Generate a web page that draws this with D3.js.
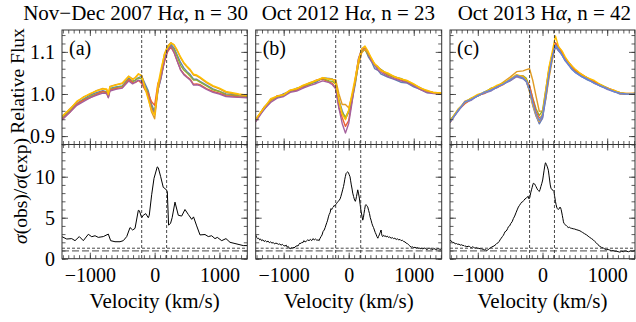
<!DOCTYPE html>
<html>
<head>
<meta charset="utf-8">
<script src="https://cdn.jsdelivr.net/npm/d3@7"></script>
<style>
  body { margin: 0; background: #fff; }
  svg { display: block; }
</style>
</head>
<body>
<svg width="636" height="322"></svg>
<script>
// ---- data ----
const titleDates = ["Nov\u2212Dec 2007", "Oct 2012", "Oct 2013"]
const nSpectra = [30, 23, 42]
const panelTags = ["(a)", "(b)", "(c)"]

// velocity grid for panel (a) spectra, and for (b), (c)
const velA = [-1430,-1300,-1200,-1100,-1000,-900,-800,-740,-715,-690,-600,-500,-400,-340,-300,-250,-200,-150,-100,-50,0,50,100,150,200,250,300,350,400,450,500,550,600,650,700,800,900,1000,1100,1200,1300,1430]
const velBC = [-1430,-1300,-1200,-1100,-1000,-900,-800,-700,-600,-500,-400,-300,-250,-200,-150,-100,-50,0,50,100,150,200,250,300,350,400,450,500,600,700,800,900,1000,1100,1200,1300,1430]

// mean relative flux
const meanA = [0.943,0.962,0.978,0.988,0.995,1.002,1.008,1.006,0.995,1.013,1.016,1.020,1.038,1.030,1.033,1.040,1.040,1.020,1.000,0.970,0.955,1.015,1.048,1.085,1.108,1.118,1.108,1.090,1.072,1.060,1.052,1.045,1.035,1.034,1.030,1.020,1.012,1.007,1.000,0.998,0.996,0.994]
const meanB = [0.938,0.966,0.985,0.993,0.998,1.006,1.012,1.017,1.024,1.031,1.036,1.033,1.030,1.022,0.978,0.950,0.935,0.952,0.988,1.030,1.078,1.104,1.110,1.095,1.080,1.068,1.060,1.053,1.045,1.038,1.034,1.028,1.021,1.012,1.006,1.002,1.001]
const meanC = [0.934,0.962,0.980,0.988,0.996,1.003,1.010,1.017,1.025,1.034,1.043,1.040,1.032,1.012,0.982,0.955,0.937,0.952,1.000,1.052,1.090,1.120,1.108,1.097,1.083,1.073,1.063,1.055,1.044,1.036,1.028,1.020,1.013,1.007,1.002,1.000,1.001]

// individual spectra, departure from the mean in units of 0.001
const devA = [
  [0,1,-1,0,2,1,0,-1,1,0,1,-1,0,1,0,-1,2,5,8,6,3,-6,-10,-6,-2,0,1,2,3,2,1,1,0,1,0,1,0,-1,0,1,0,0],
  [-2,-1,-3,-2,-1,-2,-3,-2,-1,-2,-1,-2,-3,-2,-1,-2,-4,-1,3,2,-1,-3,-4,-2,-3,-4,-3,-2,-4,-3,-2,-3,-2,-1,-2,-1,-2,-1,-2,-1,-1,0],
  [-3,-4,-2,-3,-4,-3,-2,-4,-3,-4,-3,-5,-4,-3,-6,-8,-15,-10,2,12,18,10,-4,-10,-8,-6,-10,-12,-14,-12,-11,-10,-12,-10,-8,-7,-6,-5,-4,-3,-3,-2],
  [-5,-4,-5,-6,-4,-5,-6,-5,-4,-6,-5,-6,-7,-6,-5,-7,-10,-6,-4,-2,-4,-6,-8,-5,-4,-5,-9,-13,-15,-14,-13,-12,-14,-12,-10,-9,-8,-7,-6,-5,-4,-3],
  [3,4,3,5,4,6,5,4,3,5,6,5,4,6,5,7,4,-2,-8,-12,-14,-8,5,10,6,4,8,12,14,13,12,11,10,9,8,7,6,5,4,3,2,2],
  [4,3,5,4,6,5,4,6,5,4,5,6,4,3,6,8,2,-6,-12,-8,-5,6,12,8,2,3,9,14,16,15,14,13,12,11,10,9,8,7,6,5,4,3]
]
const devB = [
  [2,-3,1,-2,3,-1,2,-2,1,-3,2,4,6,3,8,10,6,4,-5,-8,-4,-3,-2,-6,-3,-8,-4,-6,-5,-3,-6,-2,-4,-1,-3,0,-1],
  [-3,2,-2,3,-1,2,-3,1,-2,2,-1,-4,-5,-8,-10,-6,-12,-15,-4,5,4,1,0,2,-1,3,1,2,0,1,-1,0,1,-1,0,1,0],
  [0,2,-1,0,-2,1,0,3,-1,0,1,-2,0,2,4,6,10,8,6,-3,-6,-4,-5,-2,1,-1,2,5,1,2,3,1,0,2,0,1,0],
  [-4,-2,-5,-3,-4,-2,-5,-3,-4,-6,-5,-6,-8,-10,-12,-20,-28,-22,-10,2,6,3,2,0,-2,0,-3,-2,-3,-2,-3,-1,-2,-1,-2,-1,-1],
  [1,3,0,2,1,3,0,2,3,1,2,3,4,12,22,25,40,15,6,-2,-8,-6,-3,2,4,3,5,4,3,4,2,3,2,3,1,2,1],
  [3,1,4,2,0,3,1,4,2,1,3,2,5,4,6,2,4,10,12,8,2,3,4,6,5,3,4,2,5,3,2,4,3,2,3,1,2]
]
const devC = [
  [-1,2,-2,1,-1,2,0,-2,1,-1,2,-3,-2,-4,-6,-5,-8,-10,-12,-8,-5,-8,-6,-3,-4,-2,-3,-1,-2,-3,-1,-2,0,-1,-2,0,-1],
  [2,-1,3,0,2,-1,3,1,4,6,10,15,26,48,50,40,22,8,-12,-15,-10,-4,2,3,1,2,0,3,1,2,0,1,2,0,1,-1,0],
  [3,1,0,2,-1,1,3,0,2,-2,0,3,5,6,8,10,12,8,10,8,4,-2,-3,0,2,1,3,0,2,1,0,2,1,0,1,0,0],
  [-2,0,-3,-1,1,-2,0,-1,-2,1,-1,2,0,8,6,4,6,-4,4,6,3,2,4,3,2,3,4,2,3,1,2,0,1,2,-1,1,0],
  [0,-2,1,-3,0,-1,-3,0,-1,-3,-2,-4,-3,-6,-10,-8,-5,-8,-6,-3,0,-6,-5,-4,-3,-4,-2,-3,-2,-1,-3,-1,-2,-1,0,-1,0],
  [1,3,0,2,3,1,2,4,1,2,3,1,2,-6,-8,-4,-2,2,8,12,10,18,4,6,5,3,4,5,3,2,4,2,1,2,1,1,0],
  [-1,0,1,-1,0,1,-1,0,-1,0,1,-2,-1,-2,-3,-2,0,-3,-4,-6,-3,-4,-2,-4,-3,-2,-4,-3,-2,-1,-2,-1,0,-1,0,0,-1]
]
const colorsA = ["#5E81B5", "#8FB032", "#EB6235", "#A5609D", "#E19C24", "#FFBF00"]
const colorsB = ["#5E81B5", "#EB6235", "#8FB032", "#A5609D", "#E19C24", "#FFBF00"]
const colorsC = ["#5E81B5", "#E19C24", "#8FB032", "#EB6235", "#8778B3", "#FFBF00", "#6685D9"]

// sigma(obs)/sigma(exp) : [velocity, ratio]
const sigA = [[-1430,2.68],[-1357,2.4],[-1280,2.45],[-1229,2.2],[-1163,2.7],[-1101,2.2],[-1024,2.98],[-971,2.68],[-920,2.8],[-870,2.6],[-792,2.7],[-715,3.0],[-679,2.2],[-612,2.07],[-535,2.07],[-484,2.2],[-431,2.7],[-380,3.8],[-339,3.5],[-303,3.7],[-252,5.9],[-236,5.85],[-200,5.0],[-175,5.3],[-138,5.5],[-98,5.0],[-83,5.3],[-46,7.8],[-10,9.8],[40,11.2],[56,11.1],[93,10.0],[133,8.7],[170,8.5],[195,8.2],[215,4.1],[245,4.3],[270,5.0],[314,6.9],[365,5.3],[417,5.2],[468,6.0],[519,5.4],[572,4.8],[600,5.1],[649,4.0],[700,2.9],[777,2.95],[828,2.7],[880,2.8],[931,2.45],[967,2.6],[1035,2.2],[1101,2.45],[1163,2.0],[1240,1.85],[1317,1.7],[1368,1.6],[1430,1.6]]
const sigB = [[-1430,2.9],[-1415,2.6],[-1400,2.45],[-1385,2.5],[-1370,2.3],[-1355,2.4],[-1340,2.2],[-1320,2.3],[-1300,2.1],[-1280,2.2],[-1260,2.05],[-1240,2.15],[-1220,1.95],[-1200,2.05],[-1180,1.9],[-1160,1.98],[-1140,1.8],[-1120,1.9],[-1100,1.85],[-1080,1.75],[-1060,1.8],[-1040,1.65],[-1020,1.75],[-1000,1.6],[-980,1.55],[-960,1.65],[-945,1.4],[-930,1.5],[-915,1.3],[-900,1.2],[-885,1.35],[-870,1.25],[-855,1.4],[-840,1.3],[-825,1.45],[-810,1.5],[-795,1.6],[-780,1.55],[-765,1.75],[-750,1.9],[-735,1.85],[-720,2.0],[-705,1.95],[-690,2.2],[-670,2.05],[-650,2.15],[-630,2.3],[-610,2.2],[-590,2.35],[-570,2.2],[-550,2.45],[-530,2.3],[-510,2.4],[-490,2.25],[-470,2.3],[-455,2.2],[-440,2.5],[-425,2.7],[-410,2.9],[-395,3.3],[-377,3.5],[-362,3.8],[-350,4.1],[-337,4.4],[-324,4.7],[-312,5.1],[-300,5.4],[-287,5.6],[-273,6.1],[-262,6.0],[-250,6.2],[-236,6.3],[-222,6.5],[-210,6.4],[-200,6.6],[-185,6.75],[-172,6.9],[-160,7.0],[-145,7.15],[-132,7.3],[-120,7.6],[-106,8.0],[-93,8.4],[-80,8.8],[-70,9.2],[-60,9.7],[-52,10.0],[-40,10.4],[-30,10.5],[-15,10.6],[-5,10.5],[5,10.3],[20,10.0],[30,9.5],[40,9.0],[52,8.5],[62,8.0],[75,7.6],[85,7.3],[94,7.1],[102,7.0],[110,7.2],[120,7.6],[130,8.0],[139,8.4],[150,8.0],[164,7.4],[176,6.6],[190,5.8],[204,5.2],[216,4.7],[226,5.0],[235,5.5],[245,6.0],[256,6.5],[266,6.6],[275,6.5],[285,6.4],[293,6.3],[306,5.9],[320,5.5],[332,5.0],[344,4.7],[357,4.3],[370,4.0],[382,3.8],[395,3.5],[408,3.2],[420,3.0],[434,2.7],[448,2.5],[458,2.7],[470,2.9],[484,3.2],[498,3.5],[505,3.1],[512,2.8],[525,2.7],[537,2.85],[550,2.75],[563,2.8],[576,2.65],[593,2.75],[610,2.6],[630,2.65],[653,2.5],[670,2.58],[690,2.45],[710,2.5],[730,2.35],[750,2.42],[770,2.3],[790,2.35],[807,2.2],[826,2.25],[845,2.1],[865,2.05],[884,1.9],[902,1.85],[920,1.7],[940,1.55],[961,1.4],[980,1.45],[1000,1.35],[1020,1.4],[1038,1.3],[1058,1.35],[1080,1.25],[1095,1.3],[1110,1.2],[1125,1.28],[1141,1.18],[1160,1.3],[1180,1.25],[1195,1.12],[1210,1.15],[1225,1.25],[1243,1.3],[1260,1.15],[1280,1.2],[1295,1.1],[1310,1.25],[1330,1.15],[1347,1.1],[1370,1.22],[1390,1.2],[1410,1.1],[1430,1.3]]
const sigC = [[-1430,2.3],[-1415,2.15],[-1400,2.1],[-1385,1.95],[-1370,2.0],[-1350,1.8],[-1330,1.85],[-1310,1.75],[-1290,1.78],[-1273,1.65],[-1250,1.7],[-1230,1.6],[-1215,1.62],[-1200,1.5],[-1185,1.55],[-1170,1.45],[-1150,1.52],[-1130,1.5],[-1115,1.4],[-1100,1.35],[-1085,1.45],[-1068,1.4],[-1050,1.32],[-1030,1.3],[-1015,1.35],[-1000,1.25],[-983,1.28],[-965,1.2],[-948,1.22],[-930,1.15],[-915,1.18],[-900,1.05],[-880,1.1],[-861,1.0],[-850,1.05],[-840,1.1],[-826,1.2],[-813,1.3],[-796,1.35],[-780,1.45],[-765,1.5],[-750,1.55],[-735,1.65],[-718,1.75],[-700,1.9],[-685,1.95],[-670,2.1],[-656,2.3],[-638,2.5],[-620,2.7],[-605,2.85],[-590,3.1],[-579,3.3],[-565,3.35],[-550,3.5],[-538,3.7],[-527,3.9],[-508,4.0],[-490,4.3],[-470,4.5],[-450,4.9],[-430,5.2],[-410,5.6],[-392,5.95],[-373,6.3],[-356,6.5],[-340,6.7],[-321,6.9],[-305,6.95],[-290,7.1],[-270,7.3],[-255,7.35],[-240,7.5],[-219,7.6],[-210,7.3],[-200,7.4],[-190,7.7],[-182,8.05],[-170,8.4],[-160,8.7],[-150,9.0],[-142,9.2],[-130,9.15],[-120,9.1],[-110,8.95],[-100,8.8],[-88,8.6],[-75,8.4],[-62,8.3],[-49,8.2],[-37,8.45],[-25,8.8],[-10,9.2],[3,9.6],[14,10.2],[25,10.8],[35,11.3],[45,11.7],[52,11.65],[60,11.5],[75,11.2],[90,10.8],[100,10.2],[110,9.6],[120,9.0],[131,8.6],[140,8.5],[150,8.4],[163,8.35],[177,8.2],[188,7.6],[200,7.0],[210,6.6],[219,6.3],[230,6.1],[240,6.0],[250,6.05],[259,6.1],[270,6.3],[280,6.2],[288,6.0],[296,5.7],[306,5.3],[315,4.9],[324,4.5],[332,4.3],[345,4.2],[360,4.1],[378,3.95],[398,3.8],[414,3.85],[430,3.75],[452,3.7],[475,3.65],[497,3.62],[520,3.55],[550,3.48],[579,3.4],[600,3.3],[620,3.2],[650,3.05],[682,2.9],[705,2.75],[730,2.6],[758,2.45],[785,2.3],[808,2.1],[830,1.95],[858,1.7],[887,1.5],[912,1.38],[940,1.3],[965,1.18],[991,1.1],[1015,1.12],[1040,1.05],[1066,0.98],[1093,1.0],[1116,0.92],[1140,0.9],[1168,0.86],[1196,0.8],[1222,0.9],[1250,0.85],[1275,0.95],[1299,0.9],[1330,0.85],[1360,0.95],[1395,0.9],[1430,1.0]]

// dashed marker positions
const markVel = [-200, 185]
const sigmaRef = [1.28, 0.95]

// tick values
const xLabelTicks = [-1000, 0, 1000]
const fluxLabelTicks = [0.9, 1.0, 1.1]
const sigLabelTicks = [0, 5, 10]

// ---- layout ----
const serif = "'Liberation Serif', 'Times New Roman', Times, serif"
const svg = d3.select("svg").attr("font-family", serif)
const fontTick = 20
const topY = [30, 144.5]
const botY = [144.5, 258.7]
const panelX = [[62, 247.3], [255.7, 441.7], [450, 635]]

const panels = [
  { vel: velA, mean: meanA, dev: devA, colors: colorsA, sig: sigA },
  { vel: velBC, mean: meanB, dev: devB, colors: colorsB, sig: sigB },
  { vel: velBC, mean: meanC, dev: devC, colors: colorsC, sig: sigC }
]

const yFlux = d3.scaleLinear().domain([0.88, 1.152]).range([topY[1], topY[0]])
const ySig = d3.scaleLinear().domain([0, 13.93]).range([botY[1], botY[0]])

const xMinor = d3.range(-17, 18).map(k => k * 250 / 3).filter(v => v > -1430 && v < 1430)
const fluxMinor = d3.range(44, 58).map(k => k / 50)
const sigMinor = d3.range(0, 14)

const minus = d => d < 0 ? "\u2212" + Math.abs(d) : String(d)

function ticksOn(g, axisFn, scale, values, size, at) {
  g.append("g")
    .attr("transform", at)
    .call(axisFn(scale).tickValues(values).tickSize(-size).tickFormat(""))
    .call(s => s.select(".domain").remove())
    .selectAll("line").attr("stroke", "#333").attr("stroke-width", 0.8)
}

function frameBox(g, x, y, yMinor, yMajor) {
  const [x0, x1] = x.range()
  const [y1, y0] = y.range()
  ticksOn(g, d3.axisBottom, x, xMinor, 3.5, `translate(0,${y1})`)
  ticksOn(g, d3.axisBottom, x, xLabelTicks, 6, `translate(0,${y1})`)
  ticksOn(g, d3.axisTop, x, xMinor, 3.5, `translate(0,${y0})`)
  ticksOn(g, d3.axisTop, x, xLabelTicks, 6, `translate(0,${y0})`)
  ticksOn(g, d3.axisLeft, y, yMinor, 3.5, `translate(${x0},0)`)
  ticksOn(g, d3.axisLeft, y, yMajor, 6, `translate(${x0},0)`)
  ticksOn(g, d3.axisRight, y, yMinor, 3.5, `translate(${x1},0)`)
  ticksOn(g, d3.axisRight, y, yMajor, 6, `translate(${x1},0)`)
  g.append("rect")
    .attr("x", x0).attr("y", y0)
    .attr("width", x1 - x0).attr("height", y1 - y0)
    .attr("fill", "none").attr("stroke", "#333").attr("stroke-width", 1)
}

function labelAxis(g) {
  g.call(s => s.select(".domain").remove())
    .attr("font-family", serif).attr("font-size", fontTick)
  g.selectAll("text").attr("fill", "#000")
}

panels.forEach((p, i) => {
  const x = d3.scaleLinear().domain([-1430, 1430]).range(panelX[i])
  const g = svg.append("g")

  const clipId = "clip" + i
  svg.append("clipPath").attr("id", clipId)
    .append("rect")
    .attr("x", panelX[i][0]).attr("y", topY[0])
    .attr("width", panelX[i][1] - panelX[i][0]).attr("height", botY[1] - topY[0])

  // spectra
  const specLine = d3.line()
    .x((d, j) => x(p.vel[j]))
    .y(d => yFlux(d))
  const spectra = p.dev.map(row => row.map((dv, j) => p.mean[j] + dv / 1000))
  g.append("g").attr("clip-path", `url(#${clipId})`)
    .selectAll("path")
    .data(spectra)
    .join("path")
    .attr("d", specLine)
    .attr("fill", "none")
    .attr("stroke", (d, k) => p.colors[k])
    .attr("stroke-width", 1.4)
    .attr("stroke-linejoin", "round")

  // sigma ratio
  const sigLine = d3.line().x(d => x(d[0])).y(d => ySig(d[1]))
  g.append("path")
    .attr("clip-path", `url(#${clipId})`)
    .attr("d", sigLine(p.sig))
    .attr("fill", "none")
    .attr("stroke", "#000")
    .attr("stroke-width", 1)

  // reference levels
  g.selectAll(".ref")
    .data(sigmaRef)
    .join("line")
    .attr("x1", panelX[i][0]).attr("x2", panelX[i][1])
    .attr("y1", d => ySig(d)).attr("y2", d => ySig(d))
    .attr("stroke", "#333").attr("stroke-width", 0.9)
    .attr("stroke-dasharray", (d, k) => k === 0 ? "3,2" : "7,3")

  // vertical markers
  g.selectAll(".mark")
    .data(markVel)
    .join("line")
    .attr("x1", d => x(d)).attr("x2", d => x(d))
    .attr("y1", topY[0]).attr("y2", botY[1])
    .attr("stroke", "#333").attr("stroke-width", 0.9)
    .attr("stroke-dasharray", "3,2")

  frameBox(g, x, yFlux, fluxMinor, fluxLabelTicks)
  frameBox(g, x, ySig, sigMinor, sigLabelTicks)

  // x tick labels
  g.append("g")
    .attr("transform", `translate(0,${botY[1]})`)
    .call(d3.axisBottom(x).tickValues(xLabelTicks).tickSize(0).tickPadding(9).tickFormat(minus))
    .call(labelAxis)

  g.append("text")
    .attr("x", (panelX[i][0] + panelX[i][1]) / 2)
    .attr("y", 308)
    .attr("text-anchor", "middle")
    .attr("font-size", 21)
    .text("Velocity (km/s)")

  g.append("text")
    .attr("x", panelX[i][0] + 7)
    .attr("y", 55)
    .attr("font-size", fontTick)
    .text(panelTags[i])

  const title = g.append("text")
    .attr("x", [248, 435, 631][i])
    .attr("y", 20)
    .attr("text-anchor", "end")
    .attr("font-size", 21)
  title.append("tspan").text(titleDates[i] + " H")
  title.append("tspan").attr("font-style", "italic").text("\u03b1")
  title.append("tspan").text(", n = " + nSpectra[i])

  if (i === 0) {
    g.append("g")
      .attr("transform", `translate(${panelX[0][0]},0)`)
      .call(d3.axisLeft(yFlux).tickValues(fluxLabelTicks).tickSize(0).tickPadding(7).tickFormat(d3.format(".1f")))
      .call(labelAxis)
    g.append("g")
      .attr("transform", `translate(${panelX[0][0]},0)`)
      .call(d3.axisLeft(ySig).tickValues(sigLabelTicks).tickSize(0).tickPadding(7))
      .call(labelAxis)
  }
})

svg.append("text")
  .attr("transform", "translate(24,81) rotate(-90)")
  .attr("text-anchor", "middle")
  .attr("font-size", 19.5)
  .text("Relative Flux")

const sl = svg.append("text")
  .attr("transform", "translate(27,191) rotate(-90)")
  .attr("text-anchor", "middle")
  .attr("font-size", 19.5)
sl.append("tspan").attr("font-style", "italic").text("\u03c3")
sl.append("tspan").text("(obs)/")
sl.append("tspan").attr("font-style", "italic").text("\u03c3")
sl.append("tspan").text("(exp)")
</script>
</body>
</html>
